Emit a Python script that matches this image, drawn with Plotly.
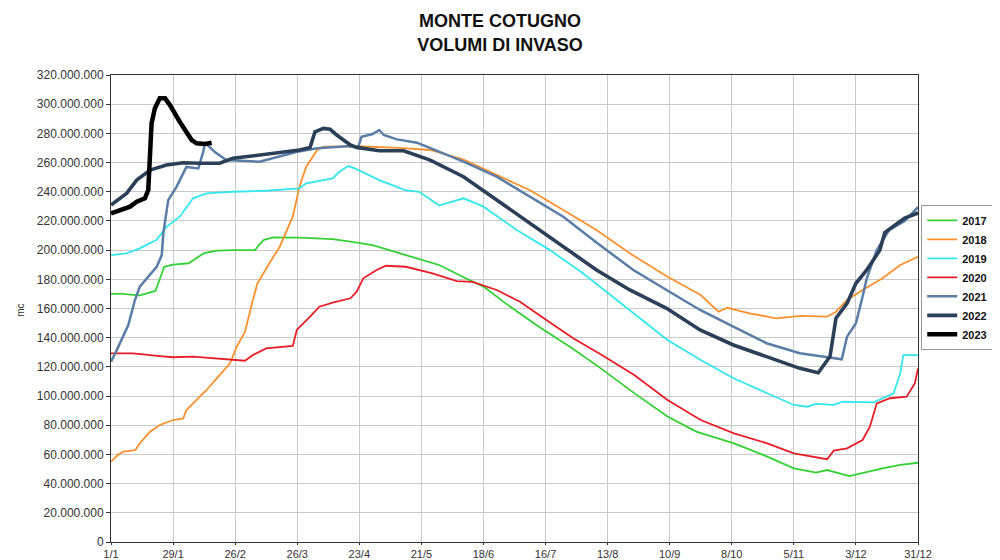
import plotly.graph_objects as go

# ---- data (volumes in millions of m3, x = day of year index, 0 = 1 Jan) ----
tick_days = [0, 28, 56, 84, 112, 140, 168, 196, 224, 252, 280, 308, 336, 364]
tick_labels = ["1/1", "29/1", "26/2", "26/3", "23/4", "21/5", "18/6", "16/7",
               "13/8", "10/9", "8/10", "5/11", "3/12", "31/12"]
y_ticks = list(range(0, 320_000_001, 20_000_000))

days_2017 = [0, 5, 13, 20, 22, 24, 28, 35, 38, 42, 48, 55, 65, 67, 69, 73, 85, 100, 108, 118, 133, 148,
             160, 168, 178, 193, 208, 220, 236, 251, 264, 281, 296, 308, 318, 323, 333, 341, 348, 356, 364]
vol_2017 = [170, 170, 169, 172, 180, 188.6, 190, 191, 194, 198, 199.6, 200, 200, 204, 207, 208.8, 208.5,
            207.6, 205.8, 203.5, 196.6, 189.8, 180.7, 175, 163.5, 147.5, 132.7, 120, 102, 86, 75.6, 67.6,
            58.5, 50.5, 47.5, 49.3, 45.2, 48.2, 50.5, 52.8, 54.3]

days_2018 = [0, 3, 5.5, 11, 13, 17.6, 22, 28, 32.6, 34, 37, 43, 49, 53.7, 56.7, 60.4, 64, 66, 71, 76, 82,
             85, 88, 93, 96, 114, 130, 144, 159, 174, 189, 204, 219, 234, 251, 266, 274, 278, 288, 300,
             311, 323, 327, 332, 339, 348, 356, 364]
vol_2018 = [55, 59.6, 61.9, 63, 67.6, 75.6, 80.2, 83.6, 84.7, 90.4, 95, 104, 114.4, 122.4, 133.8, 144,
            165.8, 177, 190, 202, 222.9, 243.5, 257, 268.6, 270.9, 271, 270, 268.6, 262, 251.5, 241,
            227.5, 213.8, 197.8, 181.8, 169.2, 157.8, 160.5, 156.7, 153.3, 154.9, 154.4, 157.8, 165.8,
            172.7, 180.7, 189.8, 195.5]

days_2019 = [0, 7, 13, 20.6, 25, 31, 37, 43, 55, 70, 85, 88, 100, 103, 107, 110, 121, 133, 139, 148, 159,
             168, 183, 198, 213, 228, 236, 251, 266, 281, 296, 308, 314, 318, 326, 330, 344, 353, 356,
             357.4, 364]
vol_2019 = [196.6, 197.8, 201.2, 207, 216, 222.9, 235.5, 238.9, 240, 240.7, 242.3, 245.8, 249.2, 253.7,
            257.6, 256, 248, 241, 240, 230.5, 235.5, 229.8, 213.8, 200, 184, 165.8, 156.7, 138.4, 124.7,
            112, 101.9, 93.9, 92.7, 94.6, 93.9, 96.1, 95.7, 101.9, 115.6, 128.1, 128.1]

days_2020 = [0, 10, 22, 28, 37, 48, 55, 60.4, 64, 70, 82, 83.8, 89.8, 94, 100, 108, 110.8, 113.8, 119.8,
             124, 133, 145, 156, 163, 174, 184.5, 196.5, 208.5, 221, 236, 251, 266, 281, 296, 308, 323,
             326, 332, 339, 342.3, 345.4, 351.4, 358.9, 362.6, 364]
vol_2020 = [129.3, 129.3, 127.4, 126.6, 127, 125.9, 124.7, 124.2, 128.1, 132.7, 134.3, 145.3, 154.4,
            161.2, 164, 167, 171.5, 180.7, 186.4, 189.3, 188.6, 184, 178.8, 178.3, 172.7, 164.6, 152,
            139.6, 128.5, 114.4, 97.3, 83.6, 74.5, 67.6, 60.8, 56.7, 62.6, 64.2, 69.9, 79, 95, 98.5,
            99.6, 108.8, 119]

days_2021 = [0, 2.6, 7.8, 10.8, 13, 20.6, 22.9, 23.6, 25.8, 29.6, 34, 39.4, 41.6, 42.4, 47, 52, 67, 84,
             93, 108, 111.5, 113, 118, 121, 123, 129, 138, 148, 159, 174, 189, 204, 220, 235.6, 250.6,
             265.7, 280.7, 295.7, 310.7, 325.8, 329.6, 332, 336, 339, 340.9, 345.4, 351, 358, 364]
vol_2021 = [123.5, 131.5, 148.7, 165.8, 175, 188.6, 196.6, 211.5, 234.3, 243.5, 257, 256, 267.4, 273.6,
            267, 261.7, 260.6, 267.4, 269.8, 271.3, 270.4, 277.7, 279.6, 282.3, 278.9, 275.9, 273.6,
            267.4, 260.6, 250.3, 236.6, 222.9, 204, 186.4, 172.7, 159, 147.5, 136.2, 129.3, 125.9,
            125.2, 140.7, 149.9, 168, 180.7, 200, 213.8, 220, 229.5]

days_2022 = [0, 7, 11.6, 17.6, 25, 32.6, 40, 49, 55, 70, 85, 89.8, 92, 95.8, 98.8, 101.8, 108, 110.8,
             121, 132, 144, 159, 174, 189, 204, 219, 234, 250.6, 265.7, 280.7, 295.7, 310.7, 319, 324.3,
             327, 332, 336, 340.9, 346.8, 349, 358, 364]
vol_2022 = [230.9, 238.9, 248, 254.9, 258.3, 259.9, 259.5, 259.5, 262.9, 265.9, 268.6, 270.4, 281.1,
            283.4, 282.8, 278.9, 272, 270.4, 268.1, 268.1, 261.7, 250.3, 234.3, 218.4, 202.3, 186.4,
            172.7, 160.1, 145.3, 135, 127, 119, 116, 127, 153.3, 163.5, 177.3, 186.4, 200, 212, 222,
            225.4]

days_2023 = [0, 4, 8.6, 11.6, 15.3, 16.8, 18.3, 19.8, 22, 24.4, 26.6, 31, 36.4, 38.6, 42.4, 45.4]
vol_2023 = [225.2, 227.5, 229.8, 233.2, 235.5, 241.2, 286.9, 297.2, 304, 304, 299.4, 288, 275.4, 273.2,
            272.7, 273.6]

series = [
    ("2017", days_2017, vol_2017, "#35d035", 1.8),
    ("2018", days_2018, vol_2018, "#f7922f", 1.8),
    ("2019", days_2019, vol_2019, "#35e6ea", 1.8),
    ("2020", days_2020, vol_2020, "#e61e28", 1.8),
    ("2021", days_2021, vol_2021, "#5a7da6", 2.5),
    ("2022", days_2022, vol_2022, "#2b4058", 3.6),
    ("2023", days_2023, vol_2023, "#000000", 4.5),
]

fig = go.Figure()
for name, d, v, color, w in series:
    fig.add_trace(go.Scatter(
        x=d, y=[val * 1e6 for val in v], mode="lines", name=name,
        line=dict(color=color, width=w),
    ))

font_family = "Liberation Sans, Arial, sans-serif"

# the page body adds an 8px offset, so the figure is 992x552 to fill the 1000x560 window
fig.update_layout(
    width=992, height=552,
    margin=dict(l=103, r=82, t=67, b=18, autoexpand=False),
    paper_bgcolor="white", plot_bgcolor="white",
    separators=",.",
    font=dict(family=font_family, size=12, color="#333333"),
    title=dict(
        text="MONTE COTUGNO<br>VOLUMI DI INVASO",
        x=0.496, xref="container", xanchor="center",
        y=0.965, yref="container", yanchor="middle",
        font=dict(family=font_family, size=18, color="#111111", weight="bold"),
    ),
    xaxis=dict(
        range=[0, 364], tickmode="array", tickvals=tick_days, ticktext=tick_labels,
        showgrid=True, gridcolor="#c9c9c9", gridwidth=1,
        showline=True, linecolor="#333333", linewidth=1, mirror=True,
        ticks="outside", ticklen=2, tickcolor="#333333",
        tickfont=dict(size=11, color="#333333"), automargin=False, zeroline=False,
    ),
    yaxis=dict(
        range=[0, 320_000_000], tickmode="array", tickvals=y_ticks,
        tickformat=",d",
        showgrid=True, gridcolor="#c9c9c9", gridwidth=1,
        showline=True, linecolor="#333333", linewidth=1, mirror=True,
        ticks="outside", ticklen=4, tickcolor="#333333",
        tickfont=dict(size=12, color="#333333"), automargin=False, zeroline=False,
    ),
    legend=dict(
        x=1.004, y=0.722, xanchor="left", yanchor="top",
        bgcolor="white", bordercolor="#999999", borderwidth=1,
        font=dict(family=font_family, size=11, color="#111111", weight="bold"),
        tracegroupgap=0,
    ),
    annotations=[dict(
        text="mc", textangle=-90, xref="paper", yref="paper",
        x=-0.121, y=0.497, showarrow=False,
        font=dict(family=font_family, size=10, color="#333333"),
    )],
)

fig.write_html("out.html")
